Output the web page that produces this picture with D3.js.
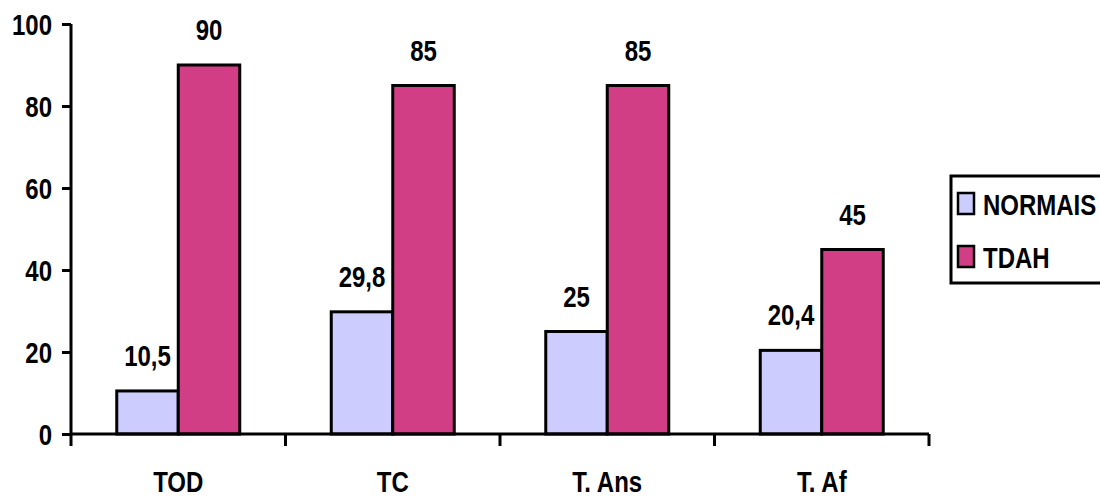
<!DOCTYPE html>
<html>
<head>
<meta charset="utf-8">
<script src="https://cdn.jsdelivr.net/npm/d3@7"></script>
<style>
  html, body { margin: 0; padding: 0; background: #fff; }
  svg text { font-family: "Liberation Sans", Arial, sans-serif; font-weight: bold; fill: #000; }
</style>
</head>
<body>
<svg id="chart" width="1100" height="499"></svg>
<script>
// Categories and series
const categories = ["TOD", "TC", "T. Ans", "T. Af"];
const seriesNames = ["NORMAIS", "TDAH"];
const normais = [10.5, 29.8, 25, 20.4];
const tdah = [90, 85, 85, 45];
const valueLabels = [["10,5", "29,8", "25", "20,4"], ["90", "85", "85", "45"]];
const yTicks = [0, 20, 40, 60, 80, 100];
const colors = ["#ccccff", "#d23e86"];

const seriesValues = [normais, tdah];

const svg = d3.select("#chart");
const plot = { left: 71, right: 929, top: 24, bottom: 434 };

const x = d3.scaleBand().domain(categories).range([plot.left, plot.right]).paddingInner(0).paddingOuter(0);
const xs = d3.scaleBand().domain(seriesNames).range([0, x.bandwidth()]).paddingInner(0).paddingOuter(0.744);
const y = d3.scaleLinear().domain([0, 100]).range([plot.bottom, plot.top]);

// Condensed bold lettering: full-height glyphs squeezed horizontally
const fontSize = 30;
const squeeze = 0.8;
function place(sel, fx, fy) {
  sel.attr("x", 0).attr("y", 0)
    .attr("font-size", fontSize)
    .attr("transform", (d, i) => `translate(${fx(d, i)},${fy(d, i)}) scale(${squeeze},1)`);
}

// Bars
const groups = svg.append("g").selectAll("g")
  .data(categories)
  .join("g")
  .attr("transform", d => `translate(${x(d)},0)`);

const barData = (c, i) => seriesNames.map((s, k) => ({ s, k, v: seriesValues[k][i], label: valueLabels[k][i] }));

groups.selectAll("rect")
  .data(barData)
  .join("rect")
  .attr("x", d => xs(d.s))
  .attr("width", xs.bandwidth())
  .attr("y", d => y(d.v))
  .attr("height", d => y(0) - y(d.v))
  .attr("fill", d => colors[d.k])
  .attr("stroke", "#000")
  .attr("stroke-width", 3);

// Value labels above bars
groups.selectAll("text")
  .data(barData)
  .join("text")
  .attr("text-anchor", "middle")
  .call(place, d => xs(d.s) + xs.bandwidth() / 2, d => y(d.v) - 25)
  .text(d => d.label);

// Y axis
const yAxis = svg.append("g")
  .attr("transform", `translate(${plot.left},0)`)
  .call(d3.axisLeft(y).tickValues(yTicks).tickSize(9).tickFormat(d3.format("d")));
yAxis.select(".domain").attr("stroke", "#000").attr("stroke-width", 3).attr("d", `M0,${plot.top}V${plot.bottom}`);
yAxis.selectAll(".tick line").attr("stroke", "#000").attr("stroke-width", 3);
yAxis.selectAll(".tick text")
  .attr("font-family", null)
  .attr("dy", "0.36em")
  .attr("text-anchor", "end")
  .call(place, () => -19, () => 0);

// X axis: line, ticks between categories, labels at centers
const xAxis = svg.append("g").attr("transform", `translate(0,${plot.bottom})`);
xAxis.append("line")
  .attr("x1", plot.left).attr("x2", plot.right)
  .attr("stroke", "#000").attr("stroke-width", 3);
const boundaries = categories.map(c => x(c)).concat([plot.right]);
xAxis.selectAll(".xtick")
  .data(boundaries)
  .join("line")
  .attr("class", "xtick")
  .attr("x1", d => d).attr("x2", d => d)
  .attr("y1", 0).attr("y2", 12)
  .attr("stroke", "#000").attr("stroke-width", 3);
xAxis.selectAll(".xlabel")
  .data(categories)
  .join("text")
  .attr("class", "xlabel")
  .attr("text-anchor", "middle")
  .call(place, d => x(d) + x.bandwidth() / 2, () => 58)
  .text(d => d);

// Legend
const legend = svg.append("g");
legend.append("rect")
  .attr("x", 951).attr("y", 176)
  .attr("width", 170).attr("height", 107)
  .attr("fill", "#fff").attr("stroke", "#000").attr("stroke-width", 3);
const items = legend.selectAll(".item")
  .data(seriesNames)
  .join("g")
  .attr("class", "item")
  .attr("transform", (d, i) => `translate(958,${193 + i * 53})`);
items.append("rect")
  .attr("width", 16).attr("height", 21)
  .attr("fill", (d, i) => colors[i])
  .attr("stroke", "#000").attr("stroke-width", 2.5);
items.append("text")
  .call(place, () => 25, () => 22)
  .text(d => d);
</script>
</body>
</html>
